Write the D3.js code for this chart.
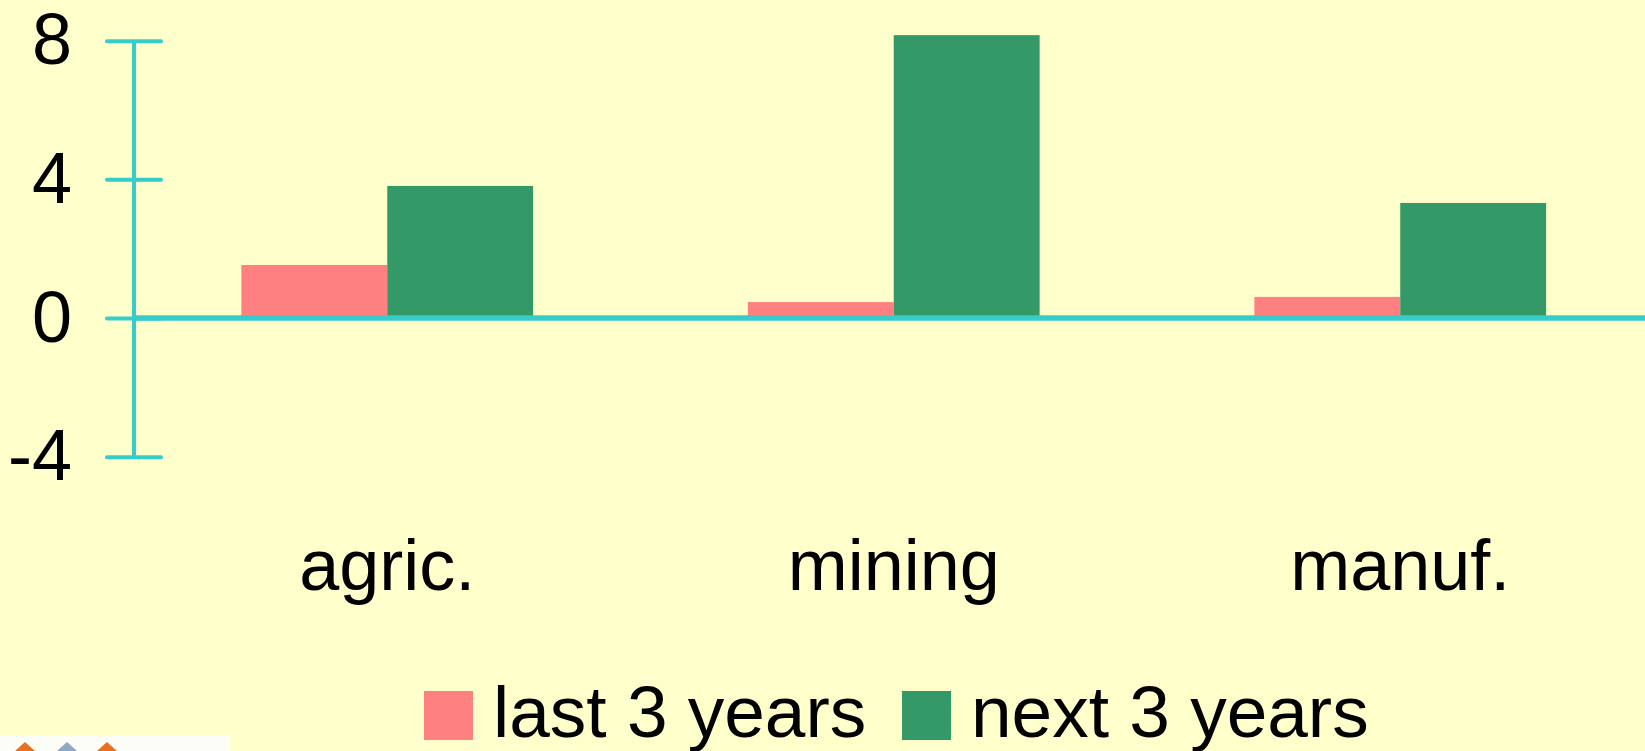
<!DOCTYPE html>
<html>
<head>
<meta charset="utf-8">
<script src="https://cdn.jsdelivr.net/npm/d3@7"></script>
<style>
  html, body { margin: 0; padding: 0; background: #ffffcc; overflow: hidden; }
  svg { display: block; }
  text { font-family: "Liberation Sans", Arial, sans-serif; fill: #000; }
</style>
</head>
<body>
<svg id="chart" width="1645" height="751"></svg>
<script>
const categories = ["agric.", "mining", "manuf."];
const seriesNames = ["last 3 years", "next 3 years"];
const lastYears = [1.53, 0.46, 0.61];
const nextYears = [3.81, 8.16, 3.32];
const yTicks = [-4, 0, 4, 8];
const colors = ["#ff8080", "#339966"];

const seriesValues = [lastYears, nextYears];
const W = 1645, H = 751;
const svg = d3.select("#chart");
svg.append("rect").attr("width", W).attr("height", H).attr("fill", "#ffffcc");

const y = d3.scaleLinear().domain([-4, 8]).range([456.7, 40.7]);
const x0 = d3.scaleBand().domain(categories).range([134, 1653.5])
  .paddingInner(0.424).paddingOuter(0.212);
const x1 = d3.scaleBand().domain(seriesNames).range([0, x0.bandwidth()]);

const axisColor = "#36cccc";

// bars
const groups = svg.append("g").selectAll("g").data(categories).join("g")
  .attr("transform", c => `translate(${x0(c)},0)`);
groups.selectAll("rect").data((c, i) => seriesNames.map((s, j) => ({s, v: seriesValues[j][i], j})))
  .join("rect")
  .attr("x", d => x1(d.s))
  .attr("width", x1.bandwidth())
  .attr("y", d => y(Math.max(0, d.v)))
  .attr("height", d => Math.abs(y(d.v) - y(0)))
  .attr("fill", d => colors[d.j]);

// y axis
const yAxis = d3.axisLeft(y).tickValues(yTicks).tickSize(0).tickPadding(0);
const ga = svg.append("g").attr("transform", "translate(134,0)").call(yAxis);
ga.select(".domain").remove();
ga.selectAll(".tick text").remove();
svg.append("line").attr("x1", 134).attr("x2", 134)
  .attr("y1", y(8)).attr("y2", y(-4))
  .attr("stroke", axisColor).attr("stroke-width", 4);
ga.selectAll(".tick").append("line")
  .attr("x1", -27).attr("x2", 27)
  .attr("stroke", axisColor).attr("stroke-width", 4).attr("stroke-linecap", "round");
ga.selectAll(".tick").append("text")
  .attr("x", -62).attr("y", 23)
  .attr("text-anchor", "end")
  .style("font-size", "72px")
  .text(d => d);

// zero line
svg.append("line").attr("x1", 134).attr("x2", W)
  .attr("y1", y(0)).attr("y2", y(0))
  .attr("stroke", axisColor).attr("stroke-width", 5.5);

// category labels
const xAxis = d3.axisBottom(x0).tickSize(0).tickPadding(0);
const gx = svg.append("g").attr("transform", "translate(0,0)").call(xAxis);
gx.select(".domain").remove();
gx.selectAll(".tick text")
  .attr("y", 590).attr("dy", null)
  .attr("fill", "#000")
  .style("font-size", "72px")
  .style("font-family", "'Liberation Sans', Arial, sans-serif");

// legend
const legendItems = [
  {name: seriesNames[0], color: colors[0], sx: 424, tx: 493},
  {name: seriesNames[1], color: colors[1], sx: 902, tx: 971}
];
const lg = svg.append("g");
lg.selectAll("rect").data(legendItems).join("rect")
  .attr("x", d => d.sx).attr("y", 691).attr("width", 49).attr("height", 49)
  .attr("fill", d => d.color);
lg.selectAll("text").data(legendItems).join("text")
  .attr("x", d => d.tx).attr("y", 737)
  .style("font-size", "73px")
  .text(d => d.name);

// logo fragment bottom-left
const logo = svg.append("g");
logo.append("rect").attr("x", 0).attr("y", 736).attr("width", 230).attr("height", 15).attr("fill", "#fdfdf8");
[[25, "#e8711f"], [67, "#8ea7c2"], [107, "#e8711f"]].forEach(([cx, c]) => {
  logo.append("path").attr("d", `M${cx - 10},751 L${cx},742 L${cx + 10},751 Z`).attr("fill", c);
});
</script>
</body>
</html>
